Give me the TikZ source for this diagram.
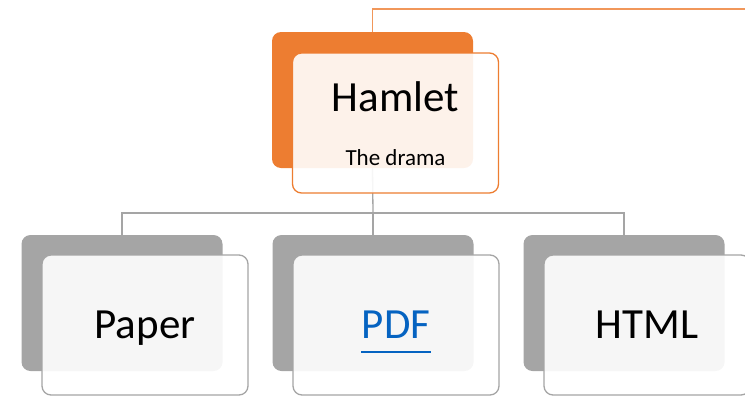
\documentclass[tikz,border=0pt]{standalone}
\usepackage{fontspec}
\setmainfont{Carlito}
\usetikzlibrary{positioning, calc}
\definecolor{accentorange}{RGB}{237,125,49}
\definecolor{accentgray}{RGB}{165,165,165}
\definecolor{linkblue}{RGB}{5,99,193}

\tikzset{
  backbox/.style={rounded corners=9pt, minimum width=201pt, minimum height=136pt, inner sep=0pt},
  frontbox/.style={draw=#1, rounded corners=9pt, line width=1.3pt, fill=white, fill opacity=0.9,
    text opacity=1, text=black, minimum width=206pt, minimum height=140pt, inner sep=0pt,
    text height=27pt, text depth=0pt, font=\fontsize{43}{50}\selectfont},
  branch/.style={accentgray, line width=1.3pt},
}

\begin{document}
\begin{tikzpicture}[x=1pt, y=-1pt]
    \useasboundingbox (0,0) rectangle (745,397);

    % Top level: back box
    \node[backbox, fill=accentorange] (hamlet-back) at (372.5,100) {};

    % Bottom level: back boxes
    \foreach \name/\x in {paper/122, pdf/373, html/624} {
        \node[backbox, fill=accentgray] (\name-back) at (\x,303) {};
    }

    % Connectors
    \coordinate (topright) at (746,9);
    \draw[accentorange!80, line width=1.2pt] (hamlet-back.north) |- (topright);
    \coordinate (split) at (373,213);
    \draw[branch] (hamlet-back.south) -- (split);
    \draw[branch] (paper-back.north) |- (split) -| (html-back.north);
    \draw[branch] (split) -- (pdf-back.north);

    % Front boxes
    \node[frontbox=accentorange] (hamlet) at ($(hamlet-back)+(23,23)$) {};
    \node[font=\fontsize{43}{50}\selectfont] (title) at ($(hamlet)+(0,-26)$) {Hamlet};
    \node[font=\fontsize{23}{27}\selectfont] (subtitle) at ($(hamlet)+(0,35)$) {The drama};

    \foreach \name/\label in {paper/Paper, pdf/\textcolor{linkblue}{PDF}, html/HTML} {
        \node[frontbox=accentgray] (\name) at ($(\name-back)+(23,22)$) {\label};
    }

    % Link underline
    \draw[linkblue, line width=1.8pt] ($(pdf)+(-35,27)$) -- ++(70,0);
\end{tikzpicture}
\end{document}
